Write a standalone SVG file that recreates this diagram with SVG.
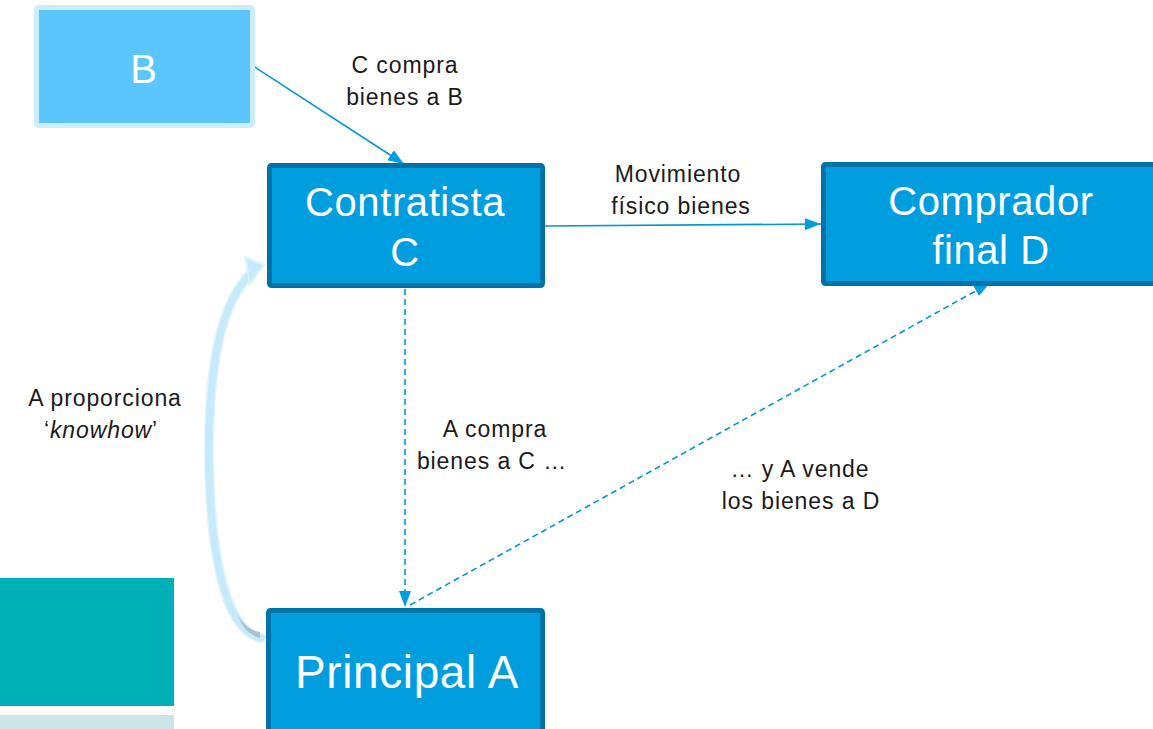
<svg xmlns="http://www.w3.org/2000/svg" width="1153" height="729" viewBox="0 0 1153 729">
<defs>
<style>
.box{fill:#009EDE;stroke:#0073A6;stroke-width:5}
.bt{font-family:"Liberation Sans",Arial,sans-serif;font-size:40px;fill:#ffffff;text-anchor:middle;letter-spacing:0.6px}
.lbl{font-family:"Liberation Sans",Arial,sans-serif;font-size:23px;fill:#1a1a1a;text-anchor:middle;letter-spacing:0.9px}
.ln{fill:none;stroke:#0096D6;stroke-width:1.6}
.dash{stroke-dasharray:6 4}
</style>
<marker id="ah" viewBox="0 0 16 12" refX="16" refY="6" markerWidth="16" markerHeight="12" markerUnits="userSpaceOnUse" orient="auto">
<path d="M0,0 L16,6 L0,12 Z" fill="#009FE0"/>
</marker>
</defs>
<rect width="1153" height="729" fill="#ffffff"/>
<g id="decor">
<rect x="0" y="578" width="174" height="128" fill="#00B0B9"/>
<rect x="0" y="715" width="174" height="14" fill="#CAE5E6"/>
</g>
<g id="connectors">
<line class="ln" x1="253" y1="66" x2="404" y2="164" marker-end="url(#ah)"/>
<line class="ln" x1="545" y1="226" x2="821" y2="224" marker-end="url(#ah)"/>
<line class="ln dash" x1="405" y1="289" x2="405" y2="607" marker-end="url(#ah)"/>
<line class="ln dash" x1="410" y1="605" x2="990" y2="283" marker-end="url(#ah)"/>
<path d="M261,638 C222,630 209,540 209,450 C209,360 222,300 252,273" fill="none" stroke="#DDF3FD" stroke-width="10" stroke-linecap="round"/>
<path d="M261,638 C222,630 209,540 209,450 C209,360 222,300 252,273" fill="none" stroke="#C6EAFA" stroke-width="7" stroke-linecap="round"/>
<polygon points="245,257 264,265 250,284" fill="#C6EAFA" stroke="#DDF3FD" stroke-width="2" stroke-linejoin="round"/>
<path d="M238,615 Q246,630 260,632 L260,638 Q244,634 238,615 Z" fill="#A9C2CE"/>
</g>
<g id="nodeB">
<rect x="36.5" y="7.5" width="216" height="118" rx="2" fill="#5BC6FD" stroke="#CCEDFC" stroke-width="5"/>
<text class="bt" x="144" y="83">B</text>
</g>
<g id="nodeC">
<rect class="box" x="269.5" y="165.5" width="273" height="120" rx="2"/>
<text class="bt" x="405" y="216">Contratista</text>
<text class="bt" x="405" y="266">C</text>
</g>
<g id="nodeD">
<rect class="box" x="823.5" y="164.5" width="340" height="119" rx="2"/>
<text class="bt" x="991" y="215">Comprador</text>
<text class="bt" x="991" y="264">final D</text>
</g>
<g id="nodeA">
<rect class="box" x="268.5" y="610.5" width="274" height="130" rx="2"/>
<text class="bt" x="407" y="688" style="font-size:46px">Principal A</text>
</g>
<g id="labels">
<text class="lbl" x="405" y="73">C compra</text>
<text class="lbl" x="405" y="105">bienes  a B</text>
<text class="lbl" x="678" y="182">Movimiento</text>
<text class="lbl" x="681" y="214">físico bienes</text>
<text class="lbl" x="105" y="406">A proporciona</text>
<text class="lbl" x="101" y="438">‘<tspan font-style="italic">knowhow</tspan>’</text>
<text class="lbl" x="495" y="437">A compra</text>
<text class="lbl" x="492" y="469">bienes  a C …</text>
<text class="lbl" x="800" y="477">… y A vende</text>
<text class="lbl" x="801" y="509">los bienes a D</text>
</g>
</svg>
